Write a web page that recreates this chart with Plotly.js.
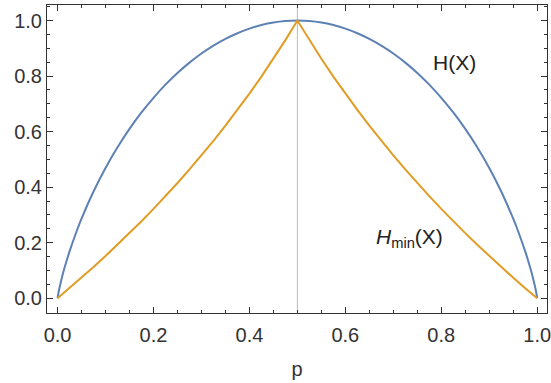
<!DOCTYPE html>
<html>
<head>
<meta charset="utf-8">
<script src="https://cdn.plot.ly/plotly-3.0.1.min.js"></script>
<style>html,body{margin:0;padding:0;background:#fff;}#chart{width:551px;height:383px;}</style>
</head>
<body>
<div id="chart"></div>
<script>
// Binary entropy H(X)
const pH = [0,0.0025,0.005,0.01,0.015,0.025,0.04,0.05,0.075,0.1,0.125,0.15,0.175,0.2,0.225,0.25,0.275,0.3,0.325,0.35,0.375,0.4,0.425,0.45,0.475,0.5,
            0.525,0.55,0.575,0.6,0.625,0.65,0.675,0.7,0.725,0.75,0.775,0.8,0.825,0.85,0.875,0.9,0.925,0.95,0.96,0.975,0.985,0.99,0.995,0.9975,1];
const hValues = [0,0.0252,0.0454,0.0808,0.1124,0.1687,0.2423,0.2864,0.3843,0.4690,0.5436,0.6098,0.6690,0.7219,0.7692,0.8113,0.8485,0.8813,0.9097,0.9341,0.9544,0.9710,0.9837,0.9928,0.9982,1,
                 0.9982,0.9928,0.9837,0.9710,0.9544,0.9341,0.9097,0.8813,0.8485,0.8113,0.7692,0.7219,0.6690,0.6098,0.5436,0.4690,0.3843,0.2864,0.2423,0.1687,0.1124,0.0808,0.0454,0.0252,0];
// Min-entropy Hmin(X)
const pMin = [0,0.025,0.05,0.075,0.1,0.125,0.15,0.175,0.2,0.225,0.25,0.275,0.3,0.325,0.35,0.375,0.4,0.425,0.45,0.475,0.5,
              0.525,0.55,0.575,0.6,0.625,0.65,0.675,0.7,0.725,0.75,0.775,0.8,0.825,0.85,0.875,0.9,0.925,0.95,0.975,1];
const hMinValues = [0,0.0365,0.0740,0.1125,0.1520,0.1926,0.2345,0.2775,0.3219,0.3677,0.4150,0.4639,0.5146,0.5670,0.6215,0.6781,0.7370,0.7983,0.8625,0.9296,1,
                    0.9296,0.8625,0.7983,0.7370,0.6781,0.6215,0.5670,0.5146,0.4639,0.4150,0.3677,0.3219,0.2775,0.2345,0.1926,0.1520,0.1125,0.0740,0.0365,0];
const tickVals = [0,0.2,0.4,0.6,0.8,1.0];
const tickText = ["0.0","0.2","0.4","0.6","0.8","1.0"];
const xLabel = "p";
const labelH = "H(X)";
const labelHmin = "<i>H</i><sub>min</sub>(X)";

const FONT = 'Liberation Sans, Arial, sans-serif';
const traces = [
  {x: pH, y: hValues, mode: 'lines', line: {color: '#5E81B5', width: 2, shape: 'spline', smoothing: 0.6}, hoverinfo: 'skip'},
  {x: pMin, y: hMinValues, mode: 'lines', line: {color: '#E19C24', width: 2}, hoverinfo: 'skip'}
];
const axisCommon = {
  showline: true, mirror: 'ticks', linecolor: '#333', linewidth: 1,
  ticks: 'inside', ticklen: 6, tickcolor: '#333', tickwidth: 1,
  showgrid: false, zeroline: false,
  tickvals: tickVals, ticktext: tickText,
  ticklabeloverflow: 'allow',
  tickfont: {family: FONT, size: 20, color: '#333'},
  minor: {dtick: 0.05, ticks: 'inside', ticklen: 3, tickcolor: '#333', tickwidth: 1, showgrid: false}
};
const layout = {
  width: 551, height: 383,
  margin: {l: 47, r: 4, t: 5, b: 70},
  paper_bgcolor: '#fff', plot_bgcolor: '#fff',
  showlegend: false,
  xaxis: Object.assign({}, axisCommon, {range: [-0.022, 1.0204], ticklabelstandoff: 4,
    title: {text: xLabel, font: {family: FONT, size: 20, color: '#333'}, standoff: 16}}),
  yaxis: Object.assign({}, axisCommon, {range: [-0.053, 1.056]}),
  shapes: [{type: 'line', xref: 'x', yref: 'paper', x0: 0.5, x1: 0.5, y0: 0, y1: 1, layer: 'below', line: {color: '#BBBBBB', width: 1}}],
  annotations: [
    {x: 0.828, y: 0.85, xref: 'x', yref: 'y', text: labelH, showarrow: false, xanchor: 'center', yanchor: 'middle',
     font: {family: FONT, size: 21, color: '#222'}},
    {x: 0.733, y: 0.216, xref: 'x', yref: 'y', text: labelHmin, showarrow: false, xanchor: 'center', yanchor: 'middle',
     font: {family: FONT, size: 21, color: '#222'}}
  ]
};
Plotly.newPlot('chart', traces, layout, {displayModeBar: false, staticPlot: true});
</script>
</body>
</html>
